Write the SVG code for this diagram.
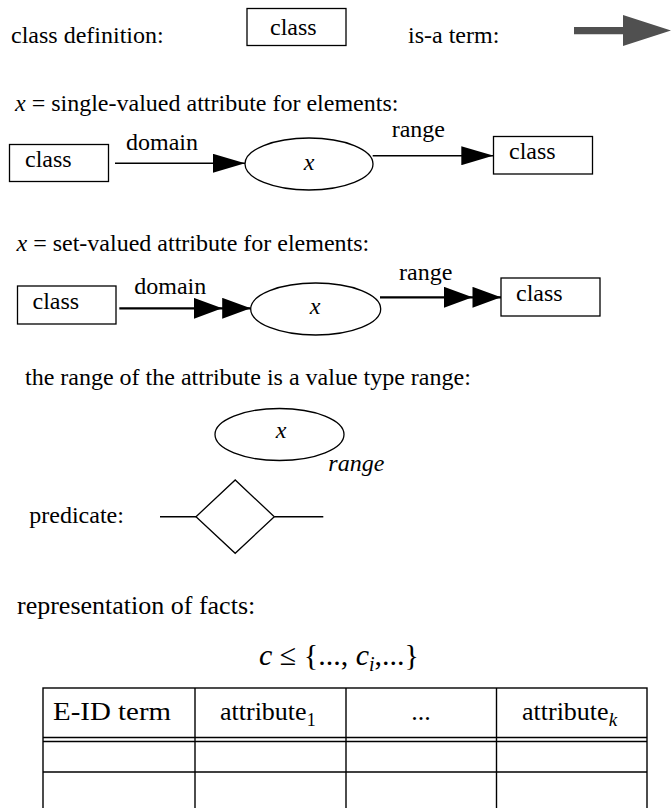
<svg xmlns="http://www.w3.org/2000/svg" width="671" height="808" viewBox="0 0 671 808" font-family="'Liberation Serif', Tinos, 'Times New Roman', Times, 'DejaVu Serif', serif">
<style>
text{font-family:"Liberation Serif",Tinos,"Times New Roman",Times,"DejaVu Serif",serif;font-size:24px;fill:#000}
.it{font-style:italic}
.box{fill:#fff;stroke:#000;stroke-width:1.3}
.ell{fill:#fff;stroke:#000;stroke-width:1.3}
.ln{stroke:#000;stroke-width:1.4;fill:none}
.ln2{stroke:#000;stroke-width:2.2;fill:none}
.big{font-size:26px}
</style>
<defs>
<marker id="head" viewBox="0 0 32 19" refX="32" refY="9.5" markerWidth="32" markerHeight="19" markerUnits="userSpaceOnUse" orient="auto">
<path d="M0,0 L32,9.5 L0,19 Z" fill="#000"/>
</marker>
<marker id="head2" viewBox="0 0 57 21" refX="57" refY="10.5" markerWidth="57" markerHeight="21" markerUnits="userSpaceOnUse" orient="auto">
<path d="M0,0 L28.5,10.5 L0,21 Z M28.5,0 L57,10.5 L28.5,21 Z" fill="#000"/>
</marker>
</defs>
<rect width="671" height="808" fill="#fff"/>

<g id="legend-class">
<text x="11" y="43">class definition:</text>
<rect class="box" x="247" y="8.5" width="99" height="37"/>
<text x="270" y="35">class</text>
</g>
<g id="legend-isa">
<text x="408" y="43">is-a term:</text>
<polygon points="574,27 623,27 623,15 671,30.5 623,46 623,34.3 574,34.3" fill="#505050"/>
</g>

<text x="15" y="111"><tspan class="it">x</tspan> = single-valued attribute for elements:</text>
<g id="sv-class1">
<rect class="box" x="9.5" y="144.5" width="99" height="37"/>
<text x="25" y="167">class</text>
</g>
<g id="sv-attr">
<ellipse class="ell" cx="309" cy="164" rx="64" ry="26"/>
<text class="it" x="309" y="170" text-anchor="middle">x</text>
</g>
<g id="sv-class2">
<rect class="box" x="493.5" y="136.5" width="99" height="37.5"/>
<text x="509" y="158.5">class</text>
</g>

<text x="16.5" y="251"><tspan class="it">x</tspan> = set-valued attribute for elements:</text>
<g id="mv-class1">
<rect class="box" x="17.5" y="286" width="98.5" height="38"/>
<text x="32.5" y="308.5">class</text>
</g>
<g id="mv-attr">
<ellipse class="ell" cx="315.7" cy="309" rx="65" ry="26"/>
<text class="it" x="315" y="313.5" text-anchor="middle">x</text>
</g>
<g id="mv-class2">
<rect class="box" x="501" y="278" width="99" height="38"/>
<text x="516" y="301">class</text>
</g>

<g id="connectors">
<line class="ln" x1="115" y1="163.3" x2="245" y2="163.3" marker-end="url(#head)"/>
<text x="126" y="150">domain</text>
<line class="ln" x1="372.7" y1="155.7" x2="493.3" y2="155.7" marker-end="url(#head)"/>
<text x="391.7" y="136.7">range</text>
<line class="ln2" x1="119.3" y1="308.3" x2="250.7" y2="308.3" marker-end="url(#head2)"/>
<text x="134.3" y="294.3">domain</text>
<line class="ln2" x1="380" y1="297.3" x2="501" y2="297.3" marker-end="url(#head2)"/>
<text x="399" y="280">range</text>
</g>

<text x="25" y="385">the range of the attribute is a value type range:</text>
<g id="value-attr">
<ellipse class="ell" cx="279.5" cy="434.5" rx="64.5" ry="26"/>
<text class="it" x="281" y="438" text-anchor="middle">x</text>
<text class="it" x="328.3" y="471">range</text>
</g>

<text x="29.3" y="523">predicate:</text>
<g id="predicate">
<line class="ln" x1="160" y1="516.7" x2="196" y2="516.7"/>
<line class="ln" x1="274.3" y1="516.7" x2="323.3" y2="516.7"/>
<polygon points="196,516.7 235.2,480 274.3,516.7 235.2,553.3" fill="#fff" stroke="#000" stroke-width="1.3"/>
</g>

<text class="big" x="17" y="614">representation of facts:</text>
<text x="259" y="665" style="font-size:30px"><tspan class="it">c</tspan> ≤ {..., <tspan class="it">c</tspan><tspan class="it" style="font-size:20px" dy="6">i</tspan><tspan dy="-6">,...}</tspan></text>

<g id="facts-table">
<rect x="43" y="688" width="604" height="140" fill="none" stroke="#000" stroke-width="1.4"/>
<line class="ln" x1="195" y1="688" x2="195" y2="808"/>
<line class="ln" x1="346" y1="688" x2="346" y2="808"/>
<line class="ln" x1="496.5" y1="688" x2="496.5" y2="808"/>
<line class="ln" x1="43" y1="737.5" x2="647" y2="737.5"/>
<line class="ln" x1="43" y1="741.5" x2="647" y2="741.5"/>
<line class="ln" x1="43" y1="772" x2="647" y2="772"/>
<text class="big" x="53" y="720" textLength="118" lengthAdjust="spacingAndGlyphs">E-ID term</text>
<text class="big" x="220" y="720">attribute<tspan style="font-size:18px" dy="6">1</tspan></text>
<text class="big" x="421" y="720" text-anchor="middle">...</text>
<text class="big" x="522" y="720">attribute<tspan class="it" style="font-size:19px" dy="6">k</tspan></text>
</g>
</svg>
